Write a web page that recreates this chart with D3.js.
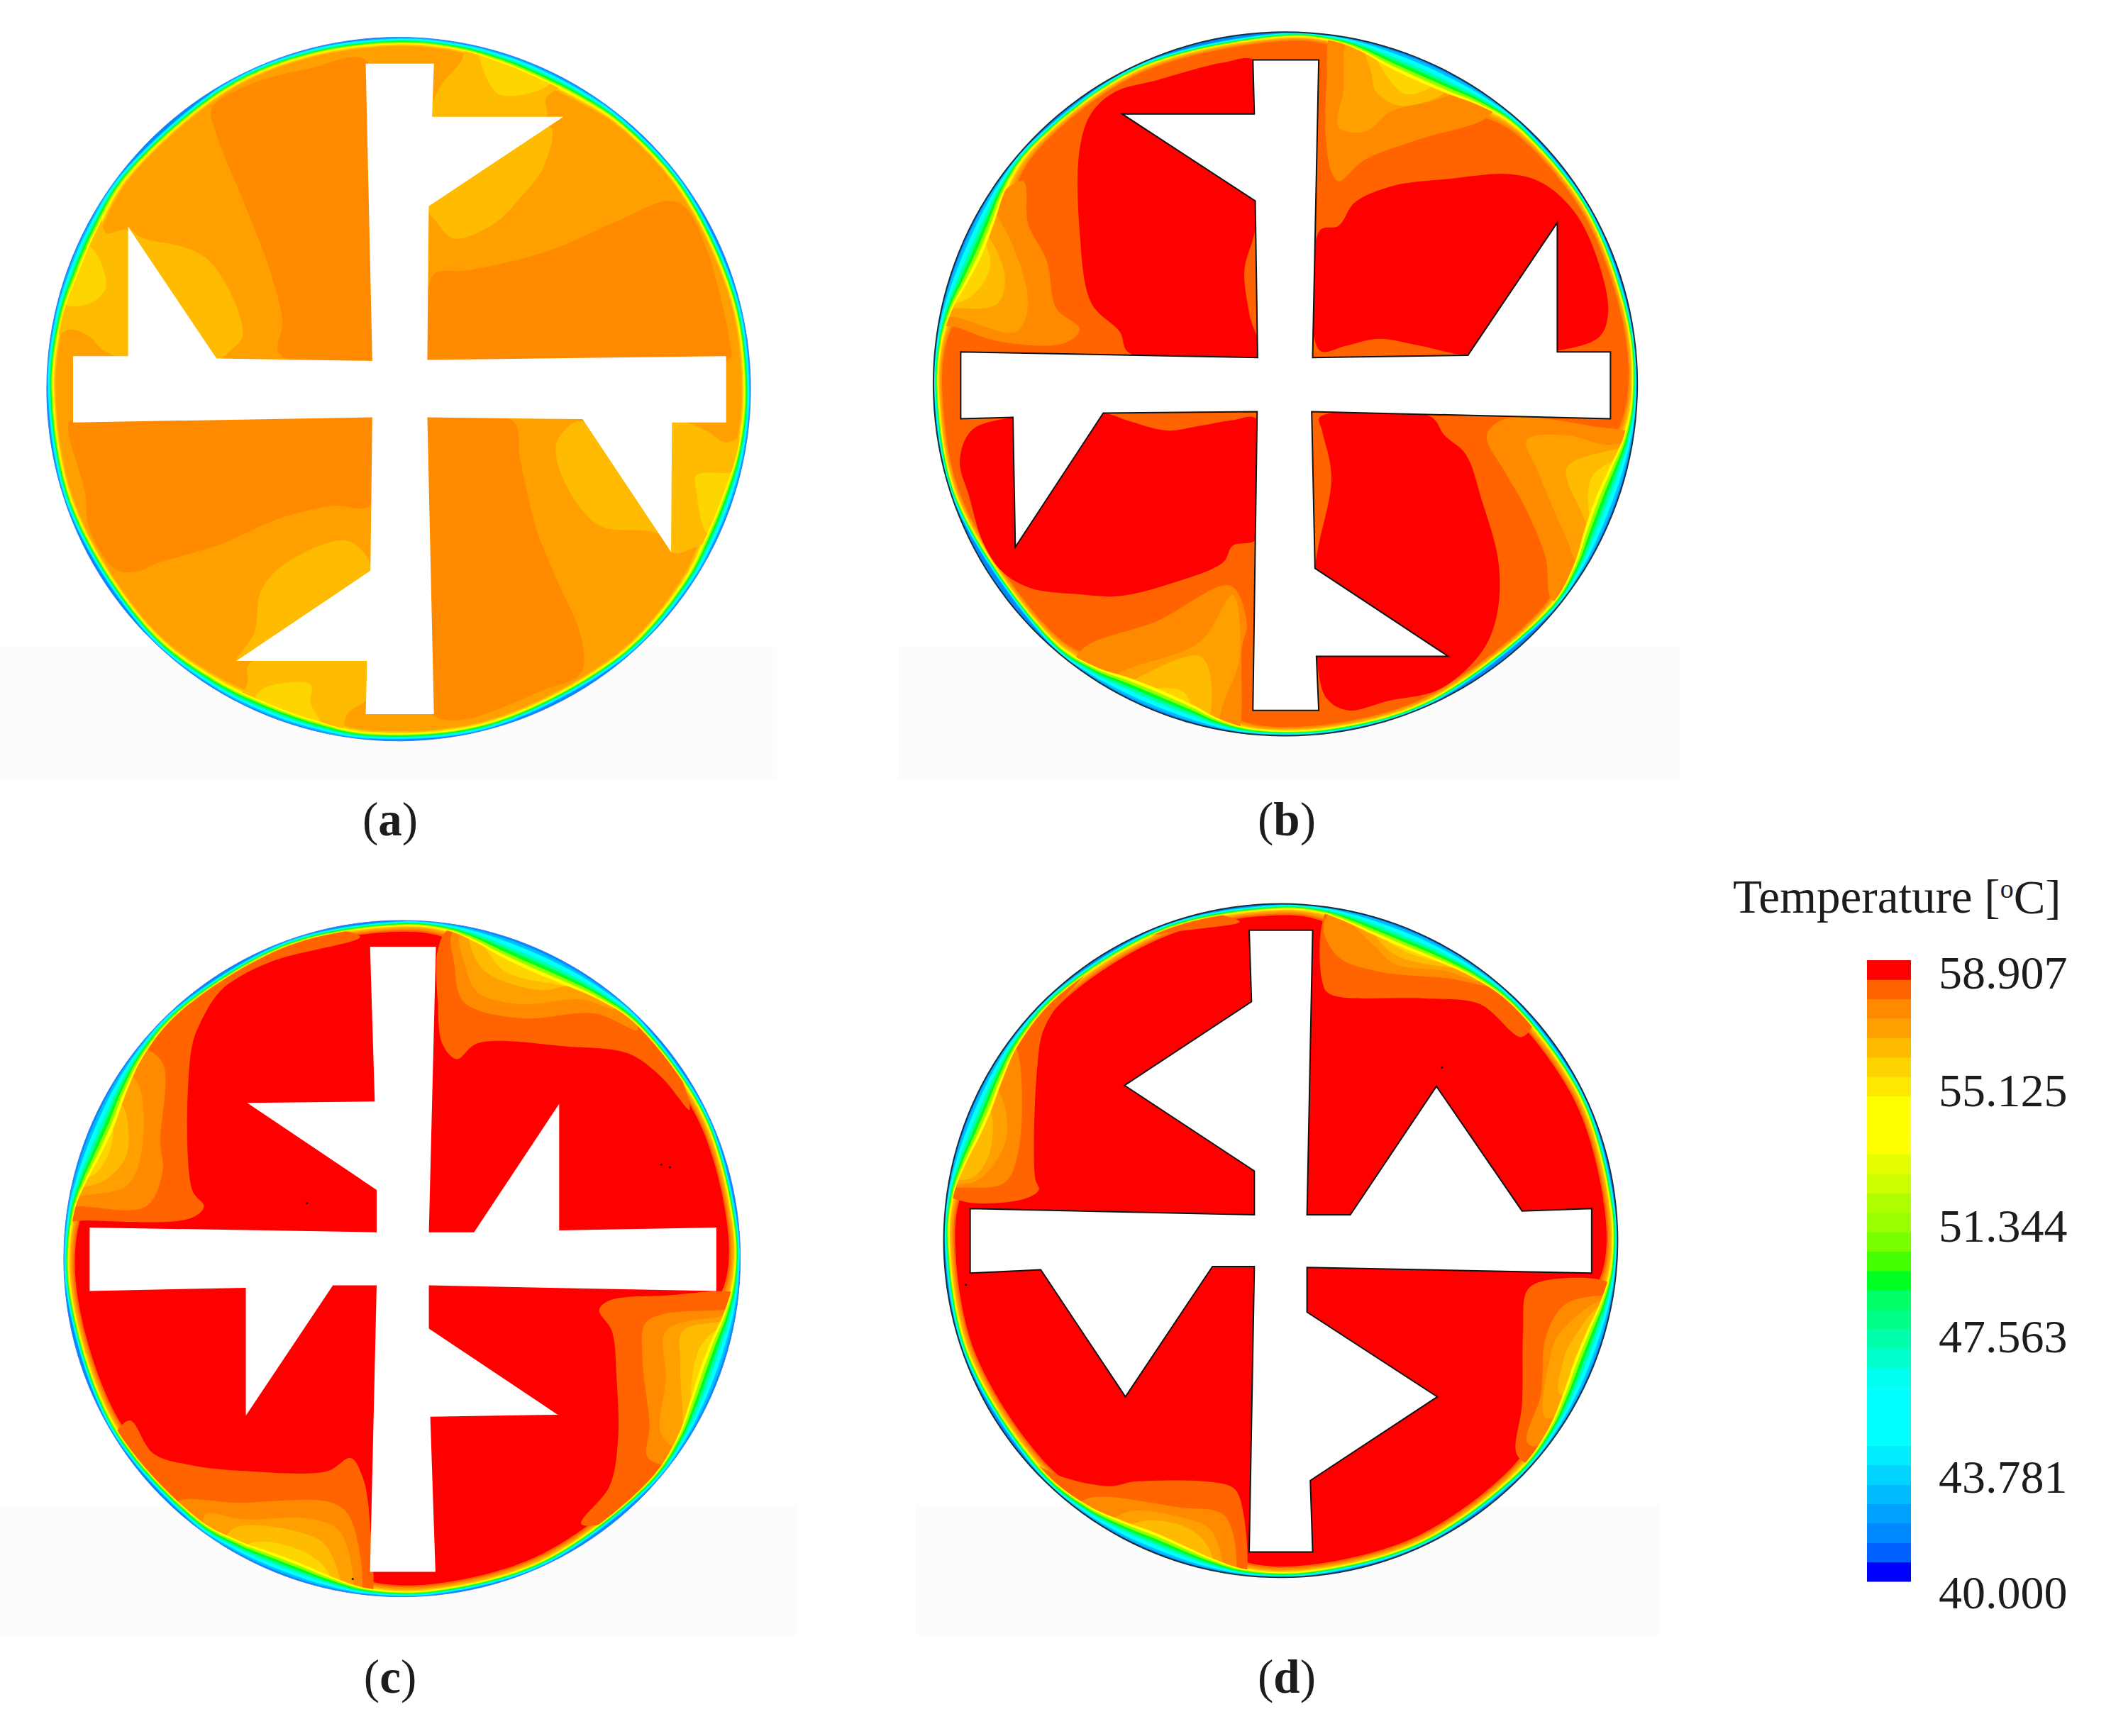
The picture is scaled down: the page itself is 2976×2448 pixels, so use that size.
<!DOCTYPE html>
<html lang="en">
<head>
<meta charset="utf-8">
<title>Temperature contours</title>
<script src="https://d3js.org/d3.v7.min.js"></script>
<style>
  body { margin: 0; background: #fff; }
  text { font-family: "Liberation Serif", serif; fill: #1c1c1c; }
</style>
</head>
<body>
<script>
// legend, bottom to top
var legendColors = ["#0000ff","#0060ff","#0088ff","#00a0ff","#00bbff","#00d4ff","#00eeff","#00ffff","#00ffff","#00ffff",
  "#00ffee","#00ffcc","#00ffaa","#00ff88","#00ff66","#00ff22","#44ff00","#77ff00","#99ff00","#b0ff00",
  "#ccff00","#e6ff00","#ffff00","#ffff00","#ffff00","#ffe800","#ffd500","#ffbb00","#ffa000","#ff8a00","#ff6400","#ff0000"];
var legendTicks = [58.907, 55.125, 51.344, 47.563, 43.781, 40.000];
var tickNudge = [18, 8, 24, 5, 28, 16];
var captions = ["a", "b", "c", "d"];

// band temperatures used by the contour regions
var T_RED = 58.61, T_RO = 58.02, T_O = 57.43, T_LO = 56.84, T_AM = 56.25, T_GO = 55.66;

// wall layer: temperature and fraction of the local layer depth
var rimWarmTemps = [58.02, 57.43, 56.84, 56.25, 55.07];
var rimWarmFracs = [1.0, 0.86, 0.74, 0.63, 0.54];
var rimCoolTemps = [54.2, 50.93, 49.16, 47.39, 45.62, 42.67, 41.49];
var rimCoolFracs = [0.47, 0.40, 0.33, 0.26, 0.19, 0.10, 0.04];

// circle of each disk in mesh units [cx, cy, R]
var diskA = [787, 782, 748], diskB = [772, 771, 748], diskC = [749, 746, 719], diskD = [747, 753, 716];

var finA = [[717,90],[862,90],[858,203],[1137,203],[851,393],[848,720],[1483,712],[1483,853],[1368,853],[1366,1128],[1178,846],[848,842],[862,1473],[717,1473],[720,1360],[442,1360],[727,1168],[731,842],[95,853],[95,712],[212,712],[212,437],[400,717],[731,722]];
var finB = [[703,82],[843,82],[830,715],[1160,710],[1350,428],[1350,703],[1463,703],[1463,845],[828,830],[835,1163],[1118,1350],[838,1350],[843,1465],[703,1465],[712,830],[385,833],[198,1118],[193,842],[82,845],[82,703],[713,715],[708,382],[425,197],[706,197]];
var finC = [[681,83],[821,83],[806,690],[902,690],[1083,417],[1083,686],[1417,680],[1417,815],[806,803],[806,895],[1080,1078],[809,1082],[820,1412],[681,1412],[695,803],[602,803],[417,1080],[417,808],[85,815],[85,680],[695,690],[695,600],[420,415],[691,412]];
var finD = [[680,93],[815,93],[803,698],[895,698],[1078,425],[1260,690],[1408,685],[1408,822],[803,810],[803,905],[1080,1085],[810,1263],[815,1415],[680,1415],[691,808],[602,808],[417,1085],[237,815],[87,822],[87,685],[691,698],[691,605],[415,423],[685,245]];

// wall layer depth: [compass degrees, depth in mesh units]
var rimA = [[0,30],[10,32],[18,44],[24,50],[32,44],[40,32],[55,30],[75,30],[90,30],[100,34],[108,48],[116,50],[124,38],[140,30],[165,30],[185,32],[194,46],[202,52],[212,42],[226,30],[250,30],[270,30],[282,36],[290,50],[298,48],[308,34],[330,30],[345,30]];
var rimB = [[0,22],[8,26],[13,50],[18,84],[23,96],[29,88],[35,56],[42,30],[60,22],[80,22],[92,24],[99,44],[105,80],[110,96],[116,86],[122,52],[130,28],[155,22],[172,22],[185,24],[191,46],[196,80],[202,96],[208,86],[214,50],[222,28],[250,22],[268,22],[277,26],[283,50],[288,84],[293,100],[299,86],[305,50],[313,28],[335,22]];
var rimC = [[0,24],[8,32],[13,60],[18,92],[24,104],[30,92],[37,60],[45,32],[65,24],[85,24],[94,30],[100,56],[105,84],[110,92],[116,78],[123,46],[132,28],[155,24],[175,24],[186,30],[192,54],[198,76],[204,76],[210,56],[218,34],[240,26],[265,24],[278,32],[284,62],[289,88],[295,96],[301,74],[308,44],[318,28],[340,24]];
var rimD = [[0,24],[7,30],[12,54],[17,78],[23,88],[29,76],[36,50],[45,30],[65,24],[85,24],[95,28],[101,52],[106,78],[112,88],[118,72],[125,44],[134,28],[155,24],[175,24],[186,28],[192,52],[197,74],[203,86],[209,70],[216,42],[226,28],[250,24],[270,24],[278,30],[284,58],[289,82],[294,88],[300,70],[307,42],[318,28],[340,24]];

// contour regions: [temperature, outline]
var bandsA = [
  [T_O, [[390,185],[470,135],[600,100],[720,85],[731,722],[550,718],[530,700],[540,640],[510,520],[460,390],[400,240]]],
  [T_O, [[848,722],[850,570],[865,535],[930,530],[1100,490],[1240,430],[1360,382],[1395,395],[1440,480],[1490,680],[1490,718]]],
  [T_O, [[90,848],[731,842],[725,1030],[650,1030],[540,1055],[400,1115],[280,1150],[230,1170],[185,1165],[130,1080],[120,1000],[85,870]]],
  [T_O, [[848,842],[1030,850],[1045,930],[1080,1080],[1120,1180],[1175,1310],[1175,1385],[1100,1420],[862,1476]]],
  [T_AM, [[851,393],[1110,225],[1095,310],[1050,370],[990,430],[905,462],[870,430]]],
  [T_AM, [[858,203],[875,140],[920,85],[940,40],[1160,110],[1100,165],[1100,203]]],
  [T_GO, [[960,50],[1000,155],[1110,130],[1050,70]]],
  [T_AM, [[212,437],[240,460],[330,480],[385,510],[440,600],[455,670],[435,695],[400,717]]],
  [T_AM, [[150,410],[165,450],[212,445],[212,712],[160,700],[130,670],[90,655],[20,690],[70,480]]],
  [T_GO, [[130,480],[165,565],[130,600],[75,600],[60,520]]],
  [T_AM, [[727,1168],[680,1105],[550,1150],[495,1210],[480,1300],[442,1360]]],
  [T_AM, [[470,1365],[720,1360],[720,1440],[680,1470],[650,1540],[420,1480],[465,1410]]],
  [T_GO, [[490,1425],[600,1410],[600,1450],[640,1530],[480,1490]]],
  [T_AM, [[1178,850],[1125,890],[1125,940],[1170,1030],[1220,1075],[1340,1090],[1366,1128]]],
  [T_AM, [[1368,853],[1440,870],[1480,895],[1540,880],[1500,1100],[1440,1110],[1366,1128]]],
  [T_GO, [[1420,965],[1490,960],[1540,950],[1490,1080],[1445,1090],[1420,1000]]]
];
var bandsB = [
  [T_RED, [[708,85],[640,88],[500,125],[410,150],[360,195],[335,270],[335,450],[360,600],[420,660],[440,705],[714,715],[695,620],[685,530],[710,430]]],
  [T_RED, [[845,445],[885,435],[920,385],[1000,350],[1120,335],[1250,325],[1320,345],[1390,410],[1440,520],[1458,620],[1440,670],[1352,700],[1160,710],[1060,690],[970,675],[900,690],[845,700]]],
  [T_RED, [[710,845],[660,848],[590,860],[520,870],[440,850],[385,833],[193,842],[105,870],[80,935],[100,1010],[130,1110],[170,1170],[230,1205],[330,1218],[420,1222],[530,1195],[640,1150],[660,1115],[712,1100]]],
  [T_RED, [[845,842],[1080,840],[1110,880],[1155,920],[1190,1020],[1225,1150],[1222,1260],[1190,1340],[1100,1420],[990,1445],[905,1465],[860,1440],[838,1350],[835,1163],[870,970],[850,870]]],
  [T_O, [[885,340],[870,320],[858,250],[860,130],[875,20],[1040,50],[1220,170],[1200,205],[1060,250],[940,295]]],
  [T_LO, [[885,225],[895,150],[910,30],[1040,60],[1160,130],[1100,165],[1000,190],[940,235]]],
  [T_AM, [[940,40],[955,110],[965,150],[1020,180],[1120,140],[1050,60]]],
  [T_GO, [[960,50],[990,120],[1030,155],[1090,130],[1040,70]]],
  [T_O, [[150,380],[215,340],[225,430],[265,510],[285,610],[335,655],[300,685],[160,680],[70,650],[15,640],[80,450]]],
  [T_LO, [[140,400],[180,450],[225,600],[200,660],[75,630],[20,620],[70,470]]],
  [T_AM, [[120,440],[175,535],[160,600],[78,610],[20,600],[70,470]]],
  [T_GO, [[110,440],[145,510],[120,570],[70,600],[30,590],[70,470]]],
  [T_O, [[340,1335],[500,1275],[655,1200],[690,1280],[680,1330],[665,1530],[610,1530],[440,1480],[320,1390]]],
  [T_LO, [[420,1385],[590,1320],[660,1220],[675,1350],[640,1450],[610,1530],[460,1480],[380,1420]]],
  [T_AM, [[440,1405],[590,1350],[615,1410],[590,1530],[480,1490],[400,1430]]],
  [T_GO, [[490,1420],[560,1430],[570,1530],[470,1500],[430,1450]]],
  [T_O, [[1200,880],[1240,845],[1420,860],[1530,890],[1500,1050],[1400,1220],[1340,1230],[1325,1140],[1280,1030],[1240,960]]],
  [T_LO, [[1285,890],[1370,880],[1450,900],[1530,900],[1480,1100],[1395,1150],[1370,1100],[1310,960]]],
  [T_AM, [[1370,950],[1450,915],[1530,910],[1490,1040],[1430,1090],[1400,1040]]],
  [T_GO, [[1430,960],[1530,920],[1490,1050],[1430,1070],[1415,1010]]]
];
var bandsC = [
  [T_RO, [[825,90],[850,45],[1000,60],[1280,240],[1360,430],[1300,360],[1230,310],[1100,295],[910,288],[865,322],[835,290],[825,200]]],
  [T_O, [[858,50],[860,120],[880,200],[1000,235],[1160,225],[1250,260],[1150,130],[1000,60]]],
  [T_LO, [[875,50],[885,130],[910,180],[1000,205],[1130,195],[1200,215],[1050,90]]],
  [T_AM, [[895,50],[920,130],[1040,175],[1120,165],[1170,190],[1050,80]]],
  [T_GO, [[920,50],[960,130],[1060,160],[1130,165],[1050,70]]],
  [T_RO, [[660,62],[470,115],[370,170],[320,245],[300,310],[303,600],[328,635],[300,660],[80,665],[20,660],[60,400],[250,150],[450,40]]],
  [T_O, [[240,330],[235,500],[240,560],[205,635],[75,635],[25,630],[70,440],[190,300]]],
  [T_LO, [[190,380],[195,520],[165,590],[85,610],[25,610],[70,460],[150,340]]],
  [T_AM, [[155,420],[165,520],[130,570],[90,590],[30,590],[70,470],[120,400]]],
  [T_GO, [[130,450],[130,510],[90,570],[35,570],[70,480],[100,430]]],
  [T_RO, [[170,1090],[220,1160],[300,1185],[420,1198],[590,1198],[640,1170],[665,1210],[680,1300],[675,1490],[600,1490],[300,1360],[130,1150]]],
  [T_O, [[270,1265],[400,1265],[600,1265],[640,1300],[650,1490],[450,1450],[300,1340]]],
  [T_LO, [[330,1290],[410,1300],[560,1300],[620,1330],[635,1490],[480,1450],[350,1370]]],
  [T_AM, [[390,1320],[540,1330],[590,1360],[620,1490],[480,1440],[370,1370]]],
  [T_GO, [[430,1350],[530,1365],[590,1410],[610,1490],[480,1440],[400,1380]]],
  [T_RO, [[1168,855],[1195,900],[1205,1000],[1208,1130],[1190,1230],[1130,1310],[1240,1290],[1380,1170],[1480,950],[1490,830],[1300,825],[1190,835]]],
  [T_O, [[1265,885],[1300,865],[1435,855],[1490,850],[1460,1000],[1350,1180],[1272,1170],[1275,1100],[1260,960]]],
  [T_LO, [[1310,900],[1420,870],[1490,860],[1450,1020],[1340,1150],[1300,1120],[1310,1000]]],
  [T_AM, [[1345,900],[1425,880],[1490,870],[1450,1010],[1350,1100],[1345,1060],[1340,960]]],
  [T_GO, [[1380,940],[1430,890],[1490,880],[1440,1020],[1370,1060]]]
];
var bandsD = [
  [T_RO, [[835,80],[860,30],[1010,50],[1160,130],[1290,260],[1260,320],[1170,250],[1050,238],[850,228],[835,200]]],
  [T_O, [[838,85],[870,40],[1000,50],[1150,130],[1210,210],[1100,195],[950,180],[870,150]]],
  [T_LO, [[890,60],[950,130],[990,165],[1100,180],[1170,200],[1100,110],[1000,50]]],
  [T_AM, [[930,60],[960,120],[1000,150],[1090,170],[1140,170],[1060,90]]],
  [T_GO, [[940,60],[980,120],[1090,160],[1120,150],[1040,70]]],
  [T_RO, [[660,75],[420,120],[310,210],[245,300],[230,380],[225,620],[233,645],[200,665],[75,670],[20,640],[60,460],[250,170],[450,50]]],
  [T_O, [[190,360],[190,560],[160,630],[85,640],[20,630],[60,470],[170,320]]],
  [T_LO, [[150,440],[165,530],[130,600],[90,630],[20,620],[65,480],[120,420]]],
  [T_AM, [[125,470],[130,560],[90,620],[25,610],[65,490]]],
  [T_RO, [[130,1100],[230,1230],[380,1275],[440,1265],[640,1275],[660,1300],[665,1490],[600,1490],[300,1360],[110,1150]]],
  [T_O, [[340,1300],[530,1320],[630,1340],[640,1490],[480,1450],[300,1330]]],
  [T_LO, [[420,1330],[530,1340],[600,1370],[620,1490],[480,1440],[370,1370]]],
  [T_AM, [[450,1350],[540,1360],[590,1400],[610,1490],[480,1430],[400,1380]]],
  [T_RO, [[1270,860],[1300,840],[1440,840],[1480,880],[1430,1050],[1300,1230],[1250,1210],[1260,1100],[1262,950]]],
  [T_O, [[1310,960],[1350,890],[1430,870],[1480,880],[1430,1040],[1290,1190],[1270,1180],[1300,1080]]],
  [T_LO, [[1340,950],[1430,880],[1480,890],[1420,1050],[1310,1130],[1320,1000]]],
  [T_AM, [[1370,960],[1430,890],[1480,900],[1410,1050],[1340,1080],[1350,1000]]]
];
var specksC = [[547,628],[1300,546],[1318,552],[644,1427]];
var specksD = [[1090,385],[78,847]];

var panels = [
  {name: "a", base: T_LO, disk: diskA, fin: finA, rim: rimA, bands: bandsA, specks: [], edge: "#4a7bff", edgeW: 1, finEdge: null, origin: [40,30], sheet: [0,911,1095,190], cap: [550,1158]},
  {name: "b", base: T_RO, disk: diskB, fin: finB, rim: rimB, bands: bandsB, specks: [], edge: "#16303f", edgeW: 2, finEdge: "#111", origin: [1300,30], sheet: [1266,911,1102,190], cap: [1814,1158]},
  {name: "c", base: T_RED, disk: diskC, fin: finC, rim: rimC, bands: bandsC, specks: specksC, edge: "#4a7bff", edgeW: 1, finEdge: null, origin: [70,1280], sheet: [0,2122,1124,184], cap: [550,2367]},
  {name: "d", base: T_RED, disk: diskD, fin: finD, rim: rimD, bands: bandsD, specks: specksD, edge: "#16303f", edgeW: 2, finEdge: "#111", origin: [1310,1250], sheet: [1290,2122,1050,184], cap: [1814,2367]}
];

var width = 2976, height = 2448;
var svg = d3.select("body").append("svg").attr("width", width).attr("height", height);

var step = (58.907 - 40) / legendColors.length;
var color = d3.scaleThreshold()
  .domain(d3.range(1, legendColors.length).map(function(i) { return 40 + i * step; }))
  .range(legendColors);

panels.forEach(function(p, idx) {
  // the crops these outlines were read from were 1568 units across 1040 page pixels
  var x = d3.scaleLinear().domain([0, 1568]).range([p.origin[0], p.origin[0] + 1040]);
  var y = d3.scaleLinear().domain([0, 1568]).range([p.origin[1], p.origin[1] + 1040]);
  var cx = p.disk[0], cy = p.disk[1], R = p.disk[2];

  var smooth = d3.line().x(function(d) { return x(d[0]); }).y(function(d) { return y(d[1]); }).curve(d3.curveCatmullRomClosed.alpha(0.5));
  var sharp = d3.line().x(function(d) { return x(d[0]); }).y(function(d) { return y(d[1]); }).curve(d3.curveLinearClosed);

  svg.append("rect").attr("x", p.sheet[0]).attr("y", p.sheet[1]).attr("width", p.sheet[2]).attr("height", p.sheet[3]).attr("fill", "#fcfcfc");

  var wall = d3.range(0, 360, 4).map(function(a) {
    var t = a * Math.PI / 180;
    return [cx + R * Math.sin(t), cy - R * Math.cos(t)];
  });

  var clipId = "disk-" + p.name;
  svg.append("clipPath").attr("id", clipId).append("path").attr("d", smooth(wall));

  var g = svg.append("g").attr("clip-path", "url(#" + clipId + ")");
  g.append("path").attr("d", smooth(wall)).attr("fill", color(p.base));

  function rimLayer(temps, fracs) {
    temps.forEach(function(temp, i) {
      if (temp >= p.base) return;
      var inner = p.rim.map(function(r) {
        var t = r[0] * Math.PI / 180, rr = R - r[1] * fracs[i];
        return [cx + rr * Math.sin(t), cy - rr * Math.cos(t)];
      });
      g.append("path")
        .attr("d", smooth(wall) + smooth(inner))
        .attr("fill-rule", "evenodd")
        .attr("fill", color(temp));
    });
  }

  // warm isotherms go under the regions, cool ones on top of them
  rimLayer(rimWarmTemps, rimWarmFracs);

  g.selectAll("path.band").data(p.bands).enter().append("path")
    .attr("class", "band")
    .attr("d", function(d) { return smooth(d[1]); })
    .attr("fill", function(d) { return color(d[0]); });

  rimLayer(rimCoolTemps, rimCoolFracs);

  svg.append("path").attr("d", smooth(wall)).attr("fill", "none").attr("stroke", p.edge).attr("stroke-width", p.edgeW);

  svg.append("path").attr("d", sharp(p.fin))
    .attr("fill", "#fff")
    .attr("stroke", p.finEdge || "none")
    .attr("stroke-width", 2);

  svg.selectAll("circle.speck-" + p.name).data(p.specks).enter().append("circle")
    .attr("class", "speck-" + p.name)
    .attr("cx", function(d) { return x(d[0]); })
    .attr("cy", function(d) { return y(d[1]); })
    .attr("r", 1.5).attr("fill", "#111");

  var cap = svg.append("text").attr("x", p.cap[0]).attr("y", p.cap[1]).attr("dy", "0.3em")
    .attr("text-anchor", "middle").attr("font-size", 67);
  cap.append("tspan").text("(");
  cap.append("tspan").attr("font-weight", "bold").text(captions[idx]);
  cap.append("tspan").text(")");
});

// legend
var legendBand = d3.scaleBand().domain(d3.range(legendColors.length)).range([2230, 1354]);
svg.selectAll("rect.key").data(legendColors).enter().append("rect")
  .attr("class", "key")
  .attr("x", 2632).attr("width", 62)
  .attr("y", function(d, i) { return legendBand(i); })
  .attr("height", legendBand.bandwidth() + 0.5)
  .attr("fill", function(d) { return d; });

var legendY = d3.scaleLinear().domain([40, 58.907]).range([2230, 1354]);
svg.selectAll("text.tick").data(legendTicks).enter().append("text")
  .attr("class", "tick")
  .attr("x", 2733)
  .attr("y", function(d, i) { return legendY(d) + tickNudge[i]; })
  .attr("dy", "0.34em")
  .attr("font-size", 66)
  .text(function(d) { return d.toFixed(3); });

var title = svg.append("text").attr("x", 2443).attr("y", 1267).attr("dy", "0.3em").attr("font-size", 67);
title.append("tspan").text("Temperature [");
title.append("tspan").attr("font-size", 38).attr("dy", "-0.55em").text("o");
title.append("tspan").attr("dy", "0.33em").text("C]");
</script>
</body>
</html>
